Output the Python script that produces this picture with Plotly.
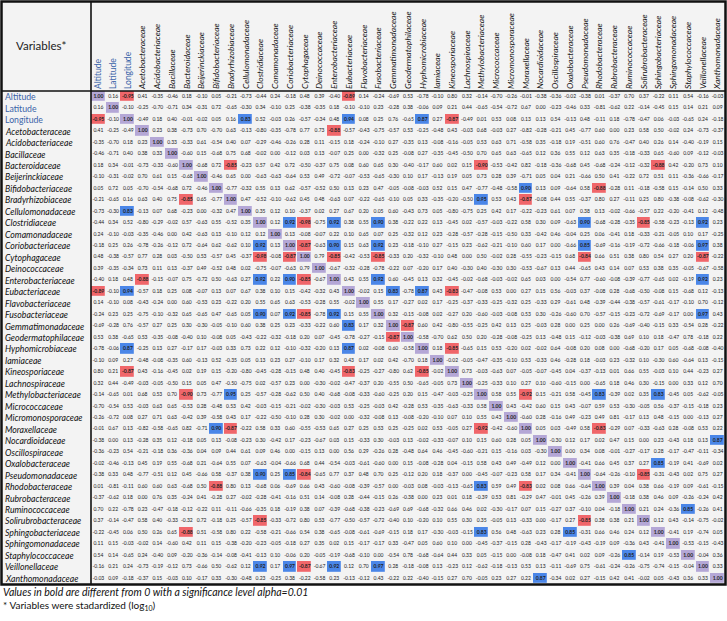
import plotly.graph_objects as go

variables = [
    "Altitude", "Latitude", "Longitude", "Acetobacteraceae", "Acidobacteriaceae",
    "Bacillaceae", "Bacteroidaceae", "Beijerinckiaceae", "Bifidobacteriaceae",
    "Bradyrhizobiaceae", "Cellulomonadaceae", "Clostridiaceae", "Comamonadaceae",
    "Coriobacteriaceae", "Cytophagaceae", "Deinococcaceae", "Enterobacteriaceae",
    "Eubacteriaceae", "Flavobacteriaceae", "Fusobacteriaceae", "Gemmatimonadaceae",
    "Geodermatophilaceae", "Hyphomicrobiaceae", "Iamiaceae", "Kineosporiaceae",
    "Lachnospiraceae", "Methylobacteriaceae", "Micrococcaceae", "Micromonosporaceae",
    "Moraxellaceae", "Nocardioidaceae", "Oscillospiraceae", "Oxalobacteraceae",
    "Pseudomonadaceae", "Rhodobacteraceae", "Rubrobacteraceae", "Ruminococcaceae",
    "Solirubrobacteraceae", "Sphingobacteriaceae", "Sphingomonadaceae",
    "Staphylococcaceae", "Veillonellaceae", "Xanthomonadaceae",
]
geo_vars = ["Altitude", "Latitude", "Longitude"]

# Lower triangle of the correlation matrix: row i holds correlations with variables 0..i-1
r_latitude = [0.16]
r_longitude = [-0.95, -0.10]
r_acetobacteraceae = [0.41, -0.25, -0.49]
r_acidobacteriaceae = [-0.35, -0.70, 0.18, 0.23]
r_bacillaceae = [-0.46, -0.71, 0.40, 0.38, 0.33]
r_bacteroidaceae = [0.18, 0.34, -0.01, -0.73, -0.33, -0.60]
r_beijerinckiaceae = [-0.10, -0.31, -0.02, 0.70, 0.61, 0.15, -0.68]
r_bifidobacteriaceae = [0.05, 0.72, 0.05, -0.70, -0.54, -0.68, 0.72, -0.46]
r_bradyrhizobiaceae = [-0.21, -0.65, 0.16, 0.63, 0.40, 0.75, -0.85, 0.65, -0.77]
r_cellulomonadaceae = [-0.73, -0.30, 0.83, -0.13, 0.07, 0.68, -0.23, 0.00, -0.32, 0.47]
r_clostridiaceae = [-0.44, 0.34, 0.52, -0.80, -0.29, -0.02, 0.57, -0.63, 0.55, -0.52, 0.35]
r_comamonadaceae = [0.24, -0.10, -0.03, -0.35, -0.46, 0.00, 0.42, -0.63, 0.13, -0.10, 0.12, 0.12]
r_coriobacteriaceae = [-0.18, 0.25, 0.26, -0.78, -0.26, -0.12, 0.72, -0.64, 0.62, -0.62, 0.10, 0.92, 0.13]
r_cytophagaceae = [0.48, -0.38, -0.57, 0.77, 0.28, 0.03, -0.50, 0.53, -0.57, 0.45, -0.37, -0.98, -0.08, -0.87]
r_deinococcaceae = [0.39, -0.35, -0.34, 0.73, 0.11, 0.13, -0.37, 0.49, -0.52, 0.48, 0.02, -0.75, -0.07, -0.63, 0.79]
r_enterobacteriaceae = [-0.40, 0.18, 0.48, -0.88, -0.15, -0.07, 0.75, -0.72, 0.50, -0.63, 0.27, 0.92, 0.22, 0.90,
                        -0.85, -0.67]
r_eubacteriaceae = [-0.89, -0.10, 0.94, -0.57, 0.18, 0.25, 0.08, -0.07, 0.13, 0.07, 0.67, 0.38, 0.10, 0.15, -0.42,
                    -0.32, 0.43]
r_flavobacteriaceae = [0.14, -0.10, 0.08, -0.43, -0.24, 0.00, 0.60, -0.53, 0.23, -0.22, 0.20, 0.55, 0.65, 0.63,
                       -0.53, -0.28, 0.55, -0.02]
r_fusobacteriaceae = [-0.24, 0.23, 0.25, -0.75, -0.10, -0.32, 0.65, -0.65, 0.47, -0.65, 0.05, 0.90, 0.07, 0.92,
                      -0.85, -0.78, 0.92, 0.15, 0.55]
r_gemmatimonadaceae = [-0.69, -0.28, 0.76, -0.57, 0.27, 0.25, 0.30, -0.30, -0.05, -0.10, 0.60, 0.38, 0.25, 0.23,
                       -0.33, -0.22, 0.60, 0.83, 0.17, 0.32]
r_geodermatophilaceae = [0.53, 0.38, -0.65, 0.53, -0.35, -0.08, -0.40, 0.10, -0.08, 0.05, -0.43, -0.22, -0.32,
                         -0.18, 0.20, 0.07, -0.45, -0.78, -0.27, -0.15, -0.87]
r_hyphomicrobiaceae = [-0.78, -0.06, 0.87, -0.25, 0.13, 0.27, -0.17, 0.17, -0.03, 0.33, 0.73, 0.22, 0.12, -0.10,
                       -0.32, -0.20, 0.13, 0.87, 0.02, -0.08, 0.60, -0.58]
r_iamiaceae = [-0.10, 0.09, 0.27, -0.48, -0.08, -0.35, 0.60, -0.13, 0.52, -0.35, 0.05, 0.13, 0.23, 0.27, -0.10,
               0.17, 0.32, 0.43, 0.17, 0.02, 0.42, -0.70, 0.18]
r_kineosporiaceae = [0.80, 0.21, -0.87, 0.43, -0.16, -0.45, 0.02, 0.19, 0.15, -0.20, -0.80, -0.45, -0.28, -0.15,
                     0.48, 0.40, -0.45, -0.83, -0.25, -0.27, -0.80, 0.62, -0.85, -0.02]
r_lachnospiraceae = [0.32, 0.44, -0.49, -0.03, -0.05, -0.50, 0.15, 0.05, 0.47, -0.50, -0.75, 0.02, -0.57, 0.23,
                     0.00, -0.30, -0.02, -0.47, -0.37, 0.20, -0.55, 0.50, -0.65, -0.05, 0.73]
r_methylobacteriaceae = [-0.14, -0.65, 0.01, 0.68, 0.53, 0.70, -0.90, 0.73, -0.77, 0.95, 0.25, -0.57, -0.28,
                         -0.62, 0.50, 0.40, -0.68, -0.08, -0.33, -0.60, -0.25, 0.20, 0.15, -0.47, -0.03, -0.25]
r_micrococcaceae = [-0.70, -0.54, 0.53, -0.03, 0.63, 0.65, -0.53, 0.28, -0.48, 0.53, 0.42, -0.03, -0.15, -0.21,
                    -0.02, -0.30, -0.03, 0.53, -0.25, -0.03, 0.42, -0.28, 0.53, -0.35, -0.63, -0.33, 0.58]
r_micromonosporaceae = [-0.26, -0.72, 0.08, 0.27, 0.71, 0.63, -0.42, 0.39, -0.58, 0.43, 0.17, -0.22, -0.50, -0.10,
                        0.28, 0.30, -0.02, 0.00, -0.32, -0.08, 0.13, -0.08, -0.20, -0.10, 0.07, 0.10, 0.55, 0.43]
r_moraxellaceae = [-0.01, 0.67, 0.13, -0.82, -0.58, -0.65, 0.82, -0.71, 0.90, -0.87, -0.22, 0.58, 0.33, 0.60,
                   -0.55, -0.53, 0.65, 0.27, 0.25, 0.53, 0.25, -0.25, 0.02, 0.53, -0.05, 0.27, -0.92, -0.42, -0.60]
r_nocardioidaceae = [-0.38, 0.00, 0.13, -0.28, 0.35, 0.12, -0.18, 0.05, 0.13, -0.08, -0.23, 0.30, -0.42, 0.17,
                     -0.23, -0.67, 0.03, 0.15, -0.33, 0.30, -0.03, 0.13, -0.02, -0.33, -0.07, 0.10, 0.15, 0.60,
                     0.28, 0.05]
r_oscillospiraceae = [-0.36, -0.23, 0.54, -0.21, -0.18, 0.36, -0.36, 0.04, 0.09, 0.44, 0.61, 0.09, 0.46, 0.00,
                      -0.15, 0.13, 0.00, 0.56, 0.29, -0.26, 0.28, -0.48, 0.64, 0.46, -0.45, -0.60, -0.21, 0.15,
                      -0.16, 0.03, -0.30]
r_oxalobacteraceae = [-0.02, -0.46, -0.13, 0.45, 0.19, 0.55, -0.68, 0.21, -0.64, 0.55, 0.07, -0.63, -0.04, -0.66,
                      0.68, 0.44, -0.54, -0.03, -0.61, -0.60, 0.00, 0.15, -0.08, -0.28, 0.04, -0.15, 0.58, 0.43,
                      0.49, -0.49, 0.12, 0.00]
r_pseudomonadaceae = [-0.38, 0.33, 0.48, -0.77, -0.51, 0.12, 0.45, -0.66, 0.58, -0.37, 0.38, 0.90, 0.25, 0.85,
                      -0.84, -0.65, 0.77, 0.37, 0.48, 0.70, 0.25, -0.12, 0.20, 0.18, -0.37, 0.00, -0.45, -0.07,
                      -0.23, 0.58, 0.17, 0.34, -0.41]
r_rhodobacteraceae = [0.01, -0.81, -0.11, 0.60, 0.60, 0.63, -0.68, 0.50, -0.88, 0.80, 0.13, -0.68, 0.06, -0.69,
                      0.66, 0.43, -0.60, -0.08, -0.39, -0.57, 0.00, -0.03, 0.08, -0.03, -0.13, -0.65, 0.83, 0.59,
                      0.49, -0.83, 0.02, 0.08, 0.66, -0.64]
r_rubrobacteraceae = [-0.37, -0.62, 0.18, 0.00, 0.76, 0.35, -0.24, 0.41, -0.28, 0.27, -0.02, -0.28, -0.41, -0.16,
                      0.51, 0.14, -0.08, 0.28, -0.44, -0.15, 0.26, -0.38, 0.00, 0.23, 0.01, 0.18, -0.39, 0.53,
                      0.81, -0.29, 0.47, -0.01, 0.45, -0.26, 0.39]
r_ruminococcaceae = [0.70, 0.22, -0.78, 0.23, -0.47, -0.18, -0.12, -0.22, 0.11, -0.11, -0.66, -0.35, 0.18, -0.19,
                     0.38, 0.07, -0.39, -0.68, -0.38, -0.23, -0.69, 0.69, -0.68, -0.32, 0.66, 0.46, 0.02, -0.30,
                     -0.17, 0.07, 0.15, -0.27, 0.37, -0.10, 0.04, -0.18]
r_solirubrobacteraceae = [0.37, -0.14, -0.47, 0.58, 0.40, -0.33, -0.32, 0.72, -0.18, 0.25, -0.57, -0.85, -0.33,
                          -0.72, 0.80, 0.53, -0.77, -0.50, -0.57, -0.72, -0.40, 0.10, -0.20, 0.10, 0.55, 0.30,
                          0.35, -0.05, 0.13, -0.33, 0.00, -0.17, 0.27, -0.85, 0.38, 0.38, 0.21]
r_sphingobacteriaceae = [-0.22, -0.45, 0.06, 0.50, 0.26, 0.65, -0.88, 0.51, -0.58, 0.80, 0.22, -0.58, -0.21,
                         -0.66, 0.54, 0.38, -0.65, -0.08, -0.61, -0.69, -0.15, 0.18, 0.17, -0.30, -0.03, -0.15,
                         0.83, 0.56, 0.48, -0.63, 0.23, 0.28, 0.85, -0.31, 0.66, 0.46, 0.24, 0.12]
r_sphingomonadaceae = [0.11, 0.15, -0.03, -0.02, 0.14, -0.60, 0.42, 0.11, 0.15, -0.38, -0.20, -0.23, -0.05,
                       -0.18, 0.27, 0.35, 0.02, 0.15, -0.17, -0.17, 0.33, -0.47, 0.05, 0.60, 0.10, 0.00, -0.45,
                       -0.37, -0.15, 0.28, -0.43, -0.17, -0.19, -0.43, -0.19, 0.09, -0.36, 0.43, -0.41]
r_staphylococcaceae = [0.54, 0.14, -0.65, 0.24, -0.40, 0.09, -0.20, -0.36, -0.14, -0.08, -0.41, -0.13, 0.10,
                       -0.06, 0.20, -0.05, -0.19, -0.68, -0.10, 0.00, -0.54, 0.78, -0.68, -0.64, 0.44, 0.33,
                       0.05, -0.15, 0.00, -0.08, 0.18, -0.47, 0.41, 0.02, 0.09, -0.26, 0.85, -0.14, 0.19, -0.53]
r_veillonellaceae = [-0.16, 0.21, 0.24, -0.73, -0.19, -0.12, 0.73, -0.66, 0.50, -0.62, 0.12, 0.92, 0.17, 0.97,
                     -0.87, -0.67, 0.92, 0.12, 0.70, 0.97, 0.28, -0.18, -0.08, 0.13, -0.23, 0.12, -0.62, -0.18,
                     -0.13, 0.53, 0.13, -0.11, -0.69, 0.75, -0.61, -0.24, -0.26, -0.75, -0.74, -0.15, -0.04]
r_xanthomonadaceae = [-0.03, 0.09, -0.18, -0.37, 0.15, -0.03, 0.10, -0.17, 0.33, -0.30, -0.48, 0.23, -0.25, 0.38,
                      -0.22, -0.58, 0.23, -0.13, -0.12, 0.43, -0.22, 0.22, -0.40, -0.15, 0.27, 0.70, -0.05, 0.23,
                      0.27, 0.22, 0.87, -0.34, 0.02, 0.27, -0.15, 0.42, 0.41, -0.02, 0.05, -0.43, 0.36, 0.33]

lower_rows = [
    r_latitude, r_longitude, r_acetobacteraceae, r_acidobacteriaceae, r_bacillaceae, r_bacteroidaceae,
    r_beijerinckiaceae, r_bifidobacteriaceae, r_bradyrhizobiaceae, r_cellulomonadaceae, r_clostridiaceae,
    r_comamonadaceae, r_coriobacteriaceae, r_cytophagaceae, r_deinococcaceae, r_enterobacteriaceae,
    r_eubacteriaceae, r_flavobacteriaceae, r_fusobacteriaceae, r_gemmatimonadaceae, r_geodermatophilaceae,
    r_hyphomicrobiaceae, r_iamiaceae, r_kineosporiaceae, r_lachnospiraceae, r_methylobacteriaceae,
    r_micrococcaceae, r_micromonosporaceae, r_moraxellaceae, r_nocardioidaceae, r_oscillospiraceae,
    r_oxalobacteraceae, r_pseudomonadaceae, r_rhodobacteraceae, r_rubrobacteraceae, r_ruminococcaceae,
    r_solirubrobacteraceae, r_sphingobacteriaceae, r_sphingomonadaceae, r_staphylococcaceae,
    r_veillonellaceae, r_xanthomonadaceae,
]

SIG_LIMIT = 0.83  # |r| from which values are significant (alpha = 0.01)

n = len(variables)
corr = [[None] * n for _ in range(n)]
for i in range(n):
    corr[i][i] = 1.0
for i, row in enumerate(lower_rows, start=1):
    for j, v in enumerate(row):
        corr[i][j] = v
        corr[j][i] = v

# cell category: 1 = significant positive, 2 = significant negative, 3 = diagonal
zcat = []
xs, ys, texts = [], [], []
for i in range(n):
    zr = []
    for j in range(n):
        v = corr[i][j]
        if i == j:
            zr.append(3)
        elif v >= SIG_LIMIT:
            zr.append(1)
        elif v <= -SIG_LIMIT:
            zr.append(2)
        else:
            zr.append(None)
        s = f"{v:.2f}"
        if i == j or abs(v) >= SIG_LIMIT:
            s = f"<b>{s}</b>"
        xs.append(variables[j])
        ys.append(variables[i])
        texts.append(s)
    zcat.append(zr)

BLUE = "#4a86e8"
RED = "#f0666a"
LAV = "#b4a7d6"
BG = "#f3f3f3"
GEO_COL = "#3a63a8"
FONT = "Lato"


def styled(name):
    if name in geo_vars:
        return f"<span style='color:{GEO_COL}'>{name}</span>"
    return f"<i>{name}</i>"


fig = go.Figure()
fig.add_trace(go.Heatmap(
    x=variables, y=variables, z=zcat, zmin=1, zmax=3,
    colorscale=[[0, BLUE], [0.33, BLUE], [0.34, RED], [0.66, RED], [0.67, LAV], [1, LAV]],
    showscale=False, xgap=1.2, ygap=1.2, hoverinfo="skip",
))
fig.add_trace(go.Scatter(
    x=xs, y=ys, text=texts, mode="text", textposition="middle center",
    textfont=dict(family=FONT, size=5, color="#222222"), hoverinfo="skip", showlegend=False,
    cliponaxis=False,
))

# table frame geometry (plot area = x 91..725, y 91..584 px)
W, H = 634.0, 493.0
def px_x(p):
    return (p - 91) / W
def px_y(p):
    return (584 - p) / H

# left-aligned row labels
for v in variables:
    fig.add_annotation(
        x=px_x(3), xref="paper", y=v, yref="y", xanchor="left", yanchor="middle",
        text=styled(v), showarrow=False, font=dict(family=FONT, size=8.7, color="#111111"),
    )

fig.add_shape(type="rect", xref="paper", yref="paper", x0=px_x(1.5), x1=px_x(725.5), y0=px_y(584.5),
              y1=px_y(1.5), line=dict(color="#111111", width=2.5), fillcolor=BG, layer="below")
fig.add_shape(type="line", xref="paper", yref="paper", x0=0, x1=0, y0=px_y(584.5), y1=px_y(1.5),
              line=dict(color="#111111", width=1.6))
fig.add_shape(type="line", xref="paper", yref="paper", x0=px_x(1.5), x1=px_x(725.5), y0=1, y1=1,
              line=dict(color="#111111", width=1.6))

fig.add_annotation(x=px_x(14), y=px_y(46), xref="paper", yref="paper", xanchor="left", yanchor="middle",
                   text="Variables*", showarrow=False,
                   font=dict(family=FONT, size=11.5, color="#222222"))
fig.add_annotation(x=px_x(1), y=px_y(592), xref="paper", yref="paper", xanchor="left", yanchor="middle",
                   text="<i>Values in bold are different from 0 with a significance level alpha=0.01</i>",
                   showarrow=False, font=dict(family=FONT, size=10.5, color="#111111"))
fig.add_annotation(x=px_x(1), y=px_y(605), xref="paper", yref="paper", xanchor="left", yanchor="middle",
                   text="* Variables were stadardized (log<sub>10</sub>)",
                   showarrow=False, font=dict(family=FONT, size=10, color="#111111"))

fig.update_layout(
    width=727, height=621,
    margin=dict(l=91, r=2, t=91, b=37, autoexpand=False),
    paper_bgcolor="white", plot_bgcolor=BG,
    showlegend=False,
    xaxis=dict(type="category", side="top", tickangle=-90, tickmode="array", tickvals=variables,
               ticktext=[styled(v) for v in variables], tickfont=dict(family=FONT, size=8.5, color="#111111"),
               showgrid=False, zeroline=False, ticks="", ticklabelstandoff=1, range=[-0.5, n - 0.5],
               fixedrange=True, automargin=False),
    yaxis=dict(type="category", showticklabels=False, showgrid=False, zeroline=False, ticks="",
               range=[n - 0.5, -0.5], fixedrange=True, automargin=False),
)

fig.write_html(
    "out.html",
    config={"displayModeBar": False, "staticPlot": True},
    post_script="document.body.style.margin='0px';document.body.style.padding='0px';",
)
